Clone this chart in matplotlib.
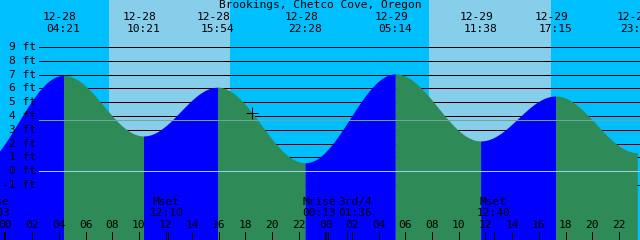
import matplotlib
matplotlib.use("Agg")
import matplotlib.pyplot as plt
import numpy as np

# ---------------- data ----------------
title = "Brookings, Chetco Cove, Oregon"

# tide extremes (first one is the low just before the chart starts)
tide_dates = ["12-27", "12-28", "12-28", "12-28", "12-28", "12-29", "12-29", "12-29", "12-29"]
tide_times = ["21:33", "04:21", "10:21", "15:54", "22:28", "05:14", "11:38", "17:15", "23:23"]
tide_heights = [0.10, 6.95, 2.56, 6.09, 0.62, 7.05, 2.20, 5.45, 1.35]

sunrise_dates = ["12-28", "12-29"]
sunrise_times = ["07:46", "07:46"]
sunset_times = ["16:50", "16:55"]

moon_labels = ["Mrise", "Mset", "Mrise", "3rd/4", "Mset"]
moon_dates = ["12-27", "12-28", "12-29", "12-29", "12-29"]
moon_times = ["23:03", "12:10", "00:13", "01:36", "12:40"]

ft_levels = list(range(-1, 10))
mean_level = 3.69
now_date, now_time, now_height = "12-28", "18:31", 4.2

# ---------------- helpers ----------------
PX_PER_H = 320.0 / 24.0
X0_PX = 5.5            # pixel of 12-28 00:00
PX_PER_FT = 13.811
Y0_PX = 171.3          # pixel of 0 ft
LW1 = 0.72             # one pixel in points


def hours(date, t):
    day = int(date[-2:]) - 28
    hh, mm = t.split(":")
    return day * 24 + int(hh) + int(mm) / 60.0


def xd(px):
    return (px - X0_PX) / PX_PER_H


def yd(py):
    return (Y0_PX - py) / PX_PER_FT


W, H = 640, 240
fig = plt.figure(figsize=(6.4, 2.4), dpi=100)
ax = fig.add_axes([0, 0, 1, 1])
ax.set_xlim(xd(0), xd(W))
ax.set_ylim(yd(H), yd(0))
ax.axis("off")

NIGHT = "#00BFFF"
DAY = "#87CEEB"
RISE = "#0000FF"
FALL = "#2E8B57"
FONT = dict(family="DejaVu Sans Mono", fontsize=8.1, color="black")

ax.add_patch(plt.Rectangle((xd(0), yd(H)), xd(W) - xd(0), yd(0) - yd(H),
                           color=NIGHT, zorder=0, lw=0))
for d, sr, ss in zip(sunrise_dates, sunrise_times, sunset_times):
    ax.axvspan(hours(d, sr), hours(d, ss), color=DAY, lw=0, zorder=0.5)

# grid lines (hidden under the water)
for f in ft_levels:
    if f != 0:
        ax.plot([xd(39), xd(W)], [f, f], color="black", lw=LW1, zorder=1,
                solid_capstyle="butt", antialiased=False)
    ax.text(xd(36), f, f"{f} ft", ha="right", va="center", zorder=5, **FONT)

# water curve (half-cosine between consecutive extremes)
th = [hours(d, t) for d, t in zip(tide_dates, tide_times)]
for i in range(len(th) - 1):
    t = np.linspace(th[i], th[i + 1], 200)
    h0, h1 = tide_heights[i], tide_heights[i + 1]
    y = h0 + (h1 - h0) * (1 - np.cos(np.pi * (t - th[i]) / (th[i + 1] - th[i]))) / 2
    ax.fill_between(t, yd(H) - 1, y, color=RISE if h1 > h0 else FALL,
                    lw=0, zorder=2)

# datum and mean lines
ax.plot([xd(39), xd(W)], [0, 0], color="#9AD3EA", lw=LW1, zorder=3, antialiased=False)
ax.plot([xd(39), xd(W)], [mean_level, mean_level], color="#6AA8A0", lw=LW1,
        zorder=3, antialiased=False)

# current-time marker
ax.plot(hours(now_date, now_time), now_height, marker="+", ms=8, mew=LW1,
        color="black", zorder=6, antialiased=False)

# title and extreme labels
ax.text(xd(320), yd(5.5), title, ha="center", va="center", zorder=6, **FONT)
for d, t, x in zip(tide_dates[1:], tide_times[1:], th[1:]):
    ax.text(x - 4 / PX_PER_H, yd(17.3), d, ha="center", va="center", zorder=6, **FONT)
    ax.text(x, yd(29.5), t, ha="center", va="center", zorder=6, **FONT)

# hour ticks
for hh in range(0, 50, 2):
    thick = hh % 24 == 0
    ax.plot([hh, hh], [yd(232), yd(H + 2)], color="black",
            lw=2 * LW1 if thick else LW1, zorder=6, solid_capstyle="butt",
            antialiased=False)
    ax.text(hh, yd(225.5), f"{hh % 24:02d}", ha="center", va="center", zorder=6, **FONT)

# moon events
label_shift_px = [0, -1.5, -9, 8, -1]
for lab, d, t, sh in zip(moon_labels, moon_dates, moon_times, label_shift_px):
    x = hours(d, t)
    ax.plot([x, x], [yd(232), yd(H + 2)], color="black", lw=LW1, zorder=6,
            solid_capstyle="butt", antialiased=False)
    ax.text(x + sh / PX_PER_H, yd(202), lab, ha="center", va="center", zorder=6, **FONT)
    ax.text(x + sh / PX_PER_H, yd(213), t, ha="center", va="center", zorder=6, **FONT)

fig.savefig("out.png", dpi=100)
